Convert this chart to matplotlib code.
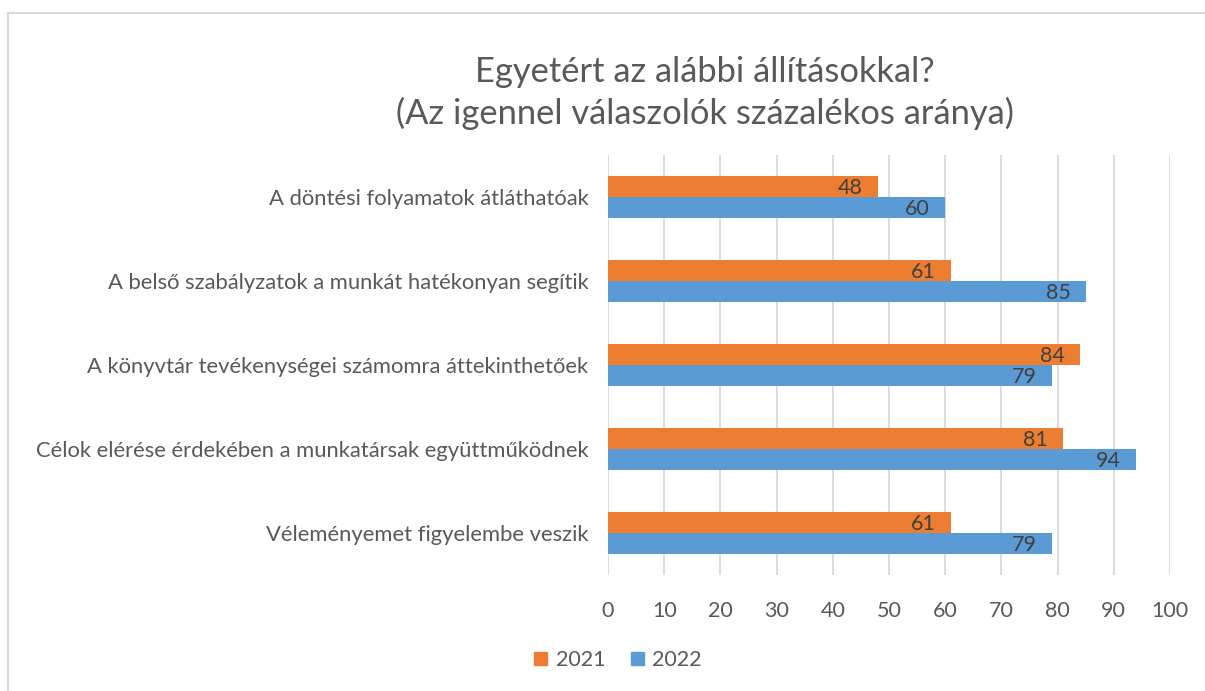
import matplotlib
matplotlib.use("Agg")
import matplotlib.pyplot as plt
from matplotlib.lines import Line2D
from matplotlib.patches import Patch
import numpy as np

categories = [
    "A döntési folyamatok átláthatóak",
    "A belső szabályzatok a munkát hatékonyan segítik",
    "A könyvtár tevékenységei számomra áttekinthetőek",
    "Célok elérése érdekében a munkatársak együttműködnek",
    "Véleményemet figyelembe veszik",
]
values_2021 = [48, 61, 84, 81, 61]
values_2022 = [60, 85, 79, 94, 79]
series_names = ["2021", "2022"]
xticks = list(range(0, 101, 10))

FONT = ["Lato", "DejaVu Sans"]
plt.rcParams["font.family"] = FONT

fig = plt.figure(figsize=(12.05, 6.91), dpi=100)
W, H = 1205, 691
ax = fig.add_axes([608 / W, 1 - 575 / H, (1170 - 608) / W, (575 - 155) / H])

orange = "#ED7D31"
blue = "#5B9BD5"
n = len(categories)
y = np.arange(n)
h = 0.25
b1 = ax.barh(y - h / 2, values_2021, height=h, color=orange, zorder=3)
b2 = ax.barh(y + h / 2, values_2022, height=h, color=blue, zorder=3)

for vals, off in ((values_2021, -h / 2), (values_2022, h / 2)):
    for yi, v in zip(y, vals):
        ax.annotate(str(v), xy=(v, yi + off), xytext=(-11, -1), textcoords="offset points",
                    ha="right", va="center", color="#404040", fontsize=15.5, zorder=4)

ax.set_ylim(n - 0.5, -0.5)
ax.set_xlim(0, 100)
ax.set_xticks(xticks)
ax.set_yticks(y)
ax.set_yticklabels(categories, fontsize=15.8, color="#595959")
ax.tick_params(axis="x", labelsize=15.5, colors="#595959", length=0, pad=19)
ax.tick_params(axis="y", length=0, pad=14)
ax.grid(axis="x", color="#D9D9D9", linewidth=1.3, zorder=0)
for s in ax.spines.values():
    s.set_visible(False)

fig.text(705 / W, 1 - 93 / H, "Egyetért az alábbi állításokkal?\n(Az igennel válaszolók százalékos aránya)",
         ha="center", va="center", fontsize=24.8, color="#595959", linespacing=1.33)

handles = [Patch(color=orange), Patch(color=blue)]
fig.legend(handles, series_names, loc="center", bbox_to_anchor=(618 / W, 1 - 660 / H), ncol=2,
           frameon=False, fontsize=15.5, labelcolor="#595959", handlelength=0.6, handleheight=0.6,
           handletextpad=0.4, columnspacing=1.2)

fig.add_artist(Line2D([8 / W, 1], [1 - 13 / H, 1 - 13 / H], color="#D9D9D9", linewidth=1.5))
fig.add_artist(Line2D([8 / W, 8 / W], [0, 1 - 13 / H], color="#D9D9D9", linewidth=1.5))

fig.savefig("out.png", dpi=100)
